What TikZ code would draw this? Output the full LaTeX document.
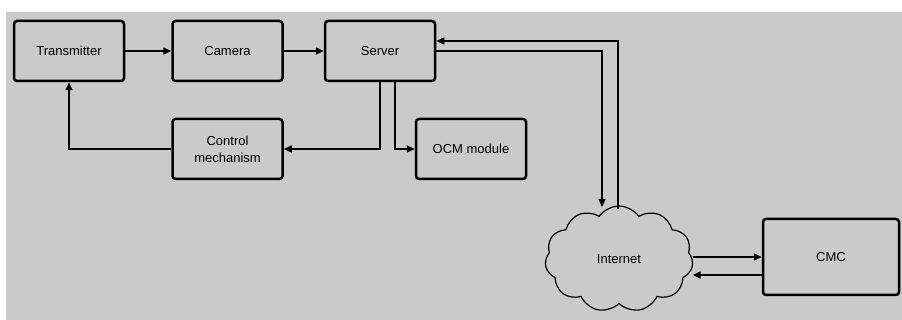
\documentclass[tikz,border=0pt]{standalone}
\usepackage{fontspec}
\setmainfont{Liberation Sans}
\usetikzlibrary{arrows.meta, shapes.symbols}

\definecolor{bggray}{RGB}{202,202,202}

\tikzset{
  block/.style={draw, line width=2.5pt, rounded corners=3pt, align=center,
    minimum width=110pt, minimum height=60pt, inner sep=0pt,
    font=\fontsize{13}{17}\selectfont},
  link/.style={line width=1.5pt, -{Triangle[length=8pt,width=7pt]}},
}

\begin{document}
\begin{tikzpicture}[x=1pt,y=-1pt]

        \useasboundingbox (0,0) rectangle (902,320);
        \fill[bggray] (6,12) rectangle (902,320);

        % top row
        \node[block] (tx) at (69,51) {Transmitter};
        \node[block] (cam) at (227.5,51) {Camera};
        \node[block] (srv) at (380,51) {Server};

        % second row
        \node[block] (ctl) at (227.5,149) {Control\\mechanism};
        \node[block] (ocm) at (471,149) {OCM module};

        \node[block, minimum width=136pt, minimum height=76pt] (cmc) at (831,257) {CMC};
        \node[draw, line width=1.2pt, cloud, cloud puffs=11, cloud puff arc=110,
              minimum width=148pt, minimum height=106pt, inner sep=0pt,
              font=\fontsize{13}{17}\selectfont] (net) at (619,259) {Internet};

        \coordinate (down) at (602,207);
        \coordinate (up) at (618,209);
        \coordinate (back) at ([yshift=-16pt]net.east);

        \draw[link] (tx.east) -- (cam.west);
        \draw[link] (cam.east) -- (srv.west);
        \draw[link] (ctl.west) -| (tx.south);
        \draw[link] (srv.south) |- (ctl.east);
        \draw[link] ([xshift=15pt]srv.south) |- (ocm.west);

        \draw[link] (srv.east) -| (down);
        \draw[link] (up) |- ([yshift=10pt]srv.east);

        \draw[link] (net.east |- cmc.west) -- (cmc.west);
        \draw[link] (cmc.west |- back) -- (back);

    \end{tikzpicture}
\end{document}
